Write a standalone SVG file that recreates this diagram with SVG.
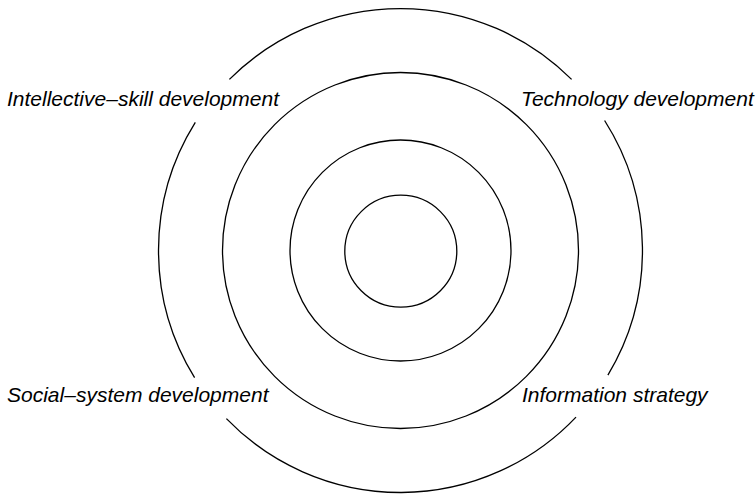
<svg xmlns="http://www.w3.org/2000/svg" width="756" height="495" viewBox="0 0 756 495">
<style>
.ring{fill:none;stroke:#000;stroke-width:1.3}
.lbl{font-family:"Liberation Sans",Arial,sans-serif;font-style:italic;font-size:21px;fill:#000}
</style>
<rect width="756" height="495" fill="#fff"/>
<g id="connectors">
<g id="outer-ring">
<path class="ring" d="M604.6,120.5 A242,242 0 0 1 607.9,375.1"/>
<path class="ring" d="M576.0,417.1 A242,242 0 0 1 226.4,418.6"/>
<path class="ring" d="M194.6,377.7 A242,242 0 0 1 195.3,122.3"/>
<path class="ring" d="M229.4,79.4 A242,242 0 0 1 571.6,79.4"/>
</g>
</g>
<g id="ring3"><circle class="ring" cx="400.5" cy="250.5" r="178"/></g>
<g id="ring2"><circle class="ring" cx="400.5" cy="250.5" r="110.5"/></g>
<g id="ring1"><circle class="ring" cx="400.8" cy="251.2" r="56"/></g>
<g id="label-intellective"><text class="lbl" x="7" y="106">Intellective–skill development</text></g>
<g id="label-technology"><text class="lbl" x="521" y="106">Technology development</text></g>
<g id="label-social"><text class="lbl" x="7" y="402">Social–system development</text></g>
<g id="label-information"><text class="lbl" x="522" y="402">Information strategy</text></g>
</svg>
